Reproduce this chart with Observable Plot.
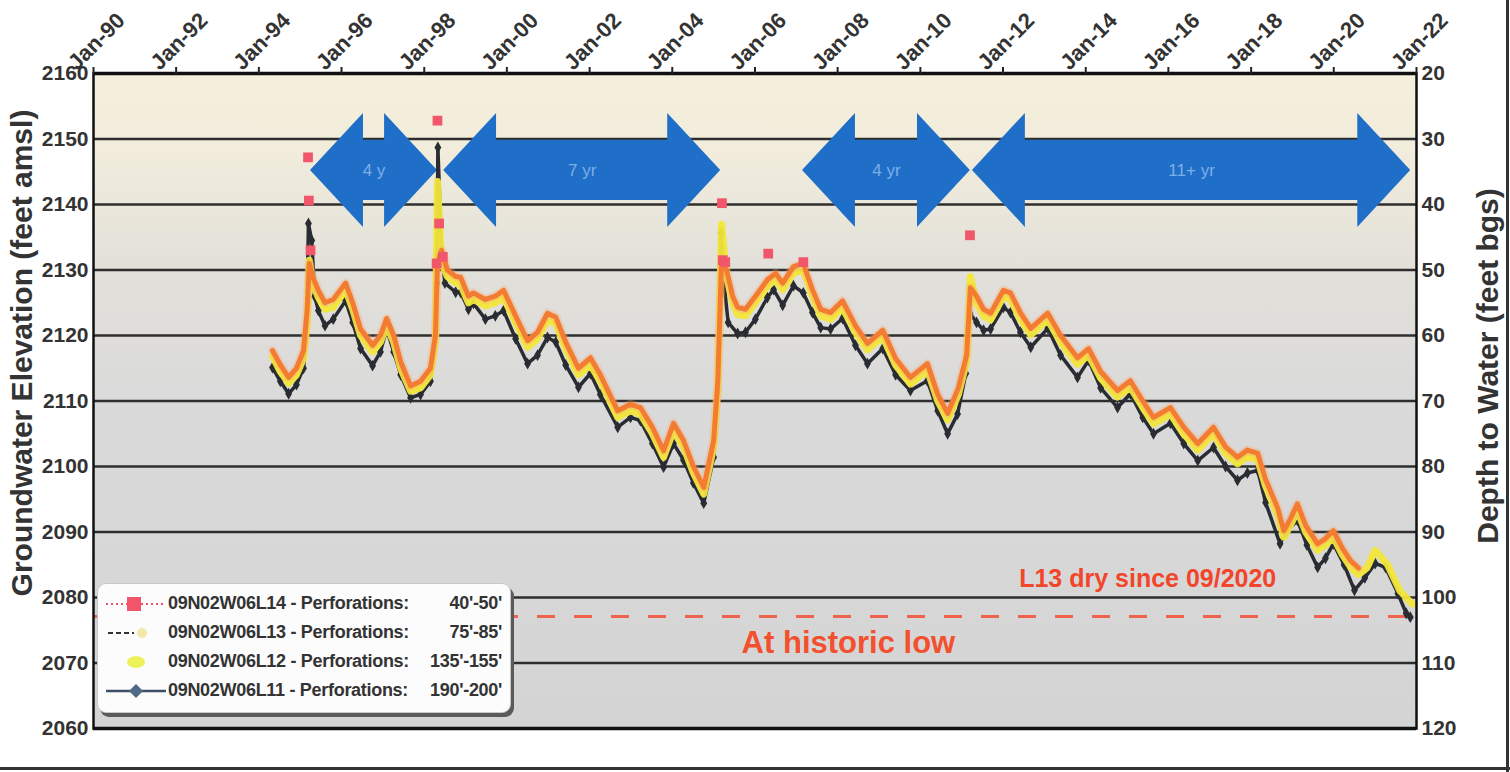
<!DOCTYPE html>
<html>
<head>
<meta charset="utf-8">
<script src="https://cdn.jsdelivr.net/npm/d3@7"></script>
<script src="https://cdn.jsdelivr.net/npm/@observablehq/plot@0.6"></script>
<style>
html,body{margin:0;padding:0;background:#fff;}
#wrap{position:relative;width:1510px;height:772px;overflow:hidden;font-family:"Liberation Sans",Arial,sans-serif;}
#chart{position:absolute;left:0;top:0;}
#legend{position:absolute;left:97px;top:583px;width:414px;height:130px;background:#fcfcfc;border:1px solid #c8c8c8;border-radius:9px;box-shadow:3px 4px 0 #5a5a5a;padding-top:5px;box-sizing:border-box;}
.row{display:flex;align-items:center;height:29px;}
.sym{width:62px;height:20px;margin-left:6px;flex:none;}
.lab{display:flex;justify-content:space-between;width:334px;margin-left:2px;font-weight:bold;font-size:18px;letter-spacing:-0.3px;color:#333;white-space:nowrap;}
.edge{position:absolute;background:#333;}
</style>
</head>
<body>
<div id="wrap">
  <div id="chart"></div>
  <div id="legend"></div>
  <div class="edge" style="left:1506px;top:0;width:3px;height:772px"></div>
  <div class="edge" style="left:0;top:767px;width:1510px;height:3px"></div>
</div>
<script>
// ---------------- data (decimal years, elevation in feet amsl) ----------------
const years13 = [1994.33,1994.52,1994.72,1994.91,1995.08,1995.17,1995.22,1995.3,1995.44,1995.6,
  1995.8,1996.1,1996.27,1996.46,1996.75,1996.94,1997.09,1997.26,1997.43,1997.67,
  1997.91,1998.15,1998.27,1998.32,1998.42,1998.56,1998.76,1998.88,1999.07,1999.19,
  1999.48,1999.72,1999.92,2000.21,2000.5,2000.74,2000.98,2001.18,2001.42,2001.73,
  2002.02,2002.26,2002.68,2002.99,2003.23,2003.52,2003.79,2004.03,2004.27,2004.51,
  2004.76,2005.0,2005.1,2005.19,2005.31,2005.46,2005.58,2005.77,2006.01,2006.3,
  2006.5,2006.67,2006.93,2007.17,2007.39,2007.59,2007.83,2008.12,2008.43,2008.72,
  2009.09,2009.4,2009.76,2010.17,2010.42,2010.66,2010.92,2011.12,2011.21,2011.36,
  2011.53,2011.7,2012.01,2012.18,2012.42,2012.67,2013.08,2013.39,2013.8,2014.07,
  2014.36,2014.77,2015.08,2015.38,2015.64,2016.05,2016.37,2016.71,2017.09,2017.38,
  2017.67,2017.91,2018.16,2018.35,2018.64,2018.79,2018.95,2019.12,2019.32,2019.61,
  2019.8,2019.99,2020.21,2020.41,2020.6];
const elev13 = [2117.7,2115.5,2113.6,2115,2117.7,2124,2131,2129,2126.9,2125,
  2125.5,2128,2125,2121,2118.5,2120,2122.6,2120,2116,2112.3,
  2113,2115,2120,2131,2133,2130,2129,2128.9,2126,2126.5,
  2125.5,2126,2126.9,2123,2119.2,2120.5,2123.4,2122.8,2119,2115,
  2116.6,2114,2108.5,2109.5,2109,2106,2102.4,2106.6,2104,2100,
  2096.8,2104,2113,2131.5,2130,2126,2124.3,2124,2126,2128.5,
  2129.5,2128,2130.5,2131,2127,2124,2123.5,2125.3,2121.5,2118.8,
  2120.8,2116.5,2113.6,2115.7,2111,2108.1,2112,2117,2127.3,2126,
  2124,2123.4,2126.9,2126.5,2123.5,2121.1,2123.4,2120,2116.6,2118,
  2114.5,2111.6,2113.1,2110,2107.5,2109,2106,2103.5,2106,2103,
  2101.4,2102.5,2102,2098,2093.7,2090.2,2092,2094.3,2091,2088.2,
  2089,2090.2,2087.5,2085.6,2084.5];

const years12 = [...years13, 2020.8,2021.0,2021.3,2021.6,2021.9];
const elev12 = [2116.8,2114.5,2112.7,2114,2116.5,2122,2131.5,2128,2125.8,2124,
  2124.3,2127,2124,2120,2117.5,2119,2121.5,2119,2115,2111.5,
  2112,2114,2119,2143.5,2131,2129,2128,2127.8,2125,2125.5,
  2124.5,2125,2125.8,2122,2118.2,2119.5,2122.3,2121.8,2118,2114,
  2115.5,2113,2107.5,2108.5,2108,2105,2101.4,2105.5,2103,2099,
  2095.8,2103,2112,2137,2129,2125,2123.2,2123,2125,2127.5,
  2128.5,2127,2129.5,2130,2126,2123,2122.5,2124.2,2120.5,2117.8,
  2119.8,2115.5,2112.6,2114.7,2110,2107.1,2111,2116,2129,2125,
  2123,2122.4,2125.9,2125.5,2122.5,2120.1,2122.4,2119,2115.6,2117,
  2113.5,2110.6,2112.1,2109,2106.5,2108,2105,2102.5,2105,2102,
  2100.4,2101.5,2101,2097,2092.7,2089.2,2091,2093.3,2090,2087.2,
  2088,2089.2,2086.5,2084.6,2083.5,2084.5,2087.2,2085,2081,2079];

const years11 = [1994.33,1994.52,1994.72,1994.91,1995.08,1995.15,1995.2,1995.28,1995.35,1995.44,
  1995.6,1995.8,1996.1,1996.27,1996.46,1996.75,1996.94,1997.09,1997.26,1997.43,
  1997.67,1997.91,1998.15,1998.27,1998.3,1998.33,1998.42,1998.5,1998.76,1998.88,
  1999.07,1999.19,1999.48,1999.72,1999.92,2000.21,2000.5,2000.74,2000.98,2001.18,
  2001.42,2001.73,2002.02,2002.26,2002.68,2002.99,2003.23,2003.52,2003.79,2004.03,
  2004.27,2004.51,2004.76,2005.0,2005.1,2005.18,2005.25,2005.35,2005.58,2005.77,
  2006.01,2006.3,2006.45,2006.67,2006.93,2007.17,2007.39,2007.59,2007.83,2008.12,
  2008.43,2008.72,2009.09,2009.4,2009.76,2010.17,2010.42,2010.66,2010.9,2011.1,
  2011.2,2011.36,2011.53,2011.7,2012.01,2012.18,2012.42,2012.67,2013.08,2013.39,
  2013.8,2014.07,2014.36,2014.77,2015.08,2015.38,2015.64,2016.05,2016.37,2016.71,
  2017.09,2017.38,2017.67,2017.91,2018.16,2018.35,2018.7,2018.85,2019.12,2019.35,
  2019.61,2019.8,2019.99,2020.25,2020.5,2020.75,2021.0,2021.25,2021.55,2021.75,
  2021.85];
const elev11 = [2115.1,2113,2111.1,2112.5,2115,2120,2137.1,2134.5,2126,2123.8,
  2121.5,2122.5,2125.3,2122,2118,2115.4,2117.5,2121,2117.5,2114,
  2110.5,2111,2113,2120,2128,2148.7,2132.7,2128,2126.6,2126.6,
  2124,2124.9,2122.5,2123,2123.8,2119.5,2115.7,2117,2119.7,2119,
  2115.5,2112.1,2114.2,2111,2106,2107.5,2107,2103.5,2099.9,2103.5,
  2101,2097.5,2094.4,2101.4,2111.6,2135.7,2128,2122,2120.3,2120.5,
  2122.5,2125.8,2127,2124.6,2127.6,2126.5,2123.5,2121.2,2121,2122.6,
  2118.5,2115.7,2118,2114,2111.6,2113.1,2108.5,2105,2108,2114.2,
  2123.4,2122,2120.8,2121,2124.3,2123.5,2120.5,2118.2,2121.1,2117,
  2113.6,2116.2,2112,2109,2111.1,2107.5,2105,2106.6,2103.5,2100.9,
  2102.9,2100,2097.9,2099,2099.4,2094.5,2088.2,2090,2091.8,2088,
  2084.6,2086,2088.2,2085,2081.1,2083,2085.2,2084.6,2080.6,2077.6,
  2077];

const years14 = [1995.19,1995.21,1995.25,1998.3,1998.32,1998.36,1998.45,2005.2,2005.22,2005.28,2006.32,2007.17,2011.2];
const elev14 = [2147.2,2140.6,2133,2131,2152.8,2137.1,2132,2140.2,2131.5,2131.2,2132.5,2131.2,2135.3];

const tickYears = [1990,1992,1994,1996,1998,2000,2002,2004,2006,2008,2010,2012,2014,2016,2018,2020,2022];
const tickLabels = ["Jan-90","Jan-92","Jan-94","Jan-96","Jan-98","Jan-00","Jan-02","Jan-04","Jan-06","Jan-08","Jan-10","Jan-12","Jan-14","Jan-16","Jan-18","Jan-20","Jan-22"];
const elevTicks = [2060,2070,2080,2090,2100,2110,2120,2130,2140,2150,2160];
const depthTicks = [120,110,100,90,80,70,60,50,40,30,20];

const periodStart = [1995.25,1998.47,2007.15,2011.26];
const periodEnd = [1998.32,2005.17,2011.21,2021.86];
const periodLabels = ["4 y","7 yr","4 yr","11+ yr"];

const historicLow = 2077.1;

const legendNames = ["09N02W06L14 - Perforations:","09N02W06L13 - Perforations:","09N02W06L12 - Perforations:","09N02W06L11 - Perforations:"];
const legendRanges = ["40'-50'","75'-85'","135'-155'","190'-200'"];

// ---------------- helpers ----------------
function toDate(y) {
  const yr = Math.floor(y);
  const a = Date.UTC(yr, 0, 1), b = Date.UTC(yr + 1, 0, 1);
  return new Date(a + (y - yr) * (b - a));
}
const rows = (ys, es) => ys.map((y, i) => ({date: toDate(y), elev: es[i]}));
const L11 = rows(years11, elev11);
const L12 = rows(years12, elev12);
const L13 = rows(years13, elev13);
const L14 = rows(years14, elev14);
const tickDates = tickYears.map(toDate);
const depthOf = new Map(elevTicks.map((e, i) => [e, depthTicks[i]]));

// block double arrows (in data units)
const HEAD = 1.28, HH = 8.7, SH = 4.6, CY = 2145.2;
const arrowPts = [];
periodStart.forEach((s, k) => {
  const e = periodEnd[k];
  arrowPts.push(
    {k, x: s, y1: CY, y2: CY},
    {k, x: s + HEAD, y1: CY - HH, y2: CY + HH},
    {k, x: s + HEAD, y1: CY - SH, y2: CY + SH},
    {k, x: e - HEAD, y1: CY - SH, y2: CY + SH},
    {k, x: e - HEAD, y1: CY - HH, y2: CY + HH},
    {k, x: e, y1: CY, y2: CY}
  );
});
const arrowLabels = periodLabels.map((t, k) => ({t, x: (periodStart[k] + periodEnd[k]) / 2}));

const FONT = "Liberation Sans, Arial, Helvetica, sans-serif";

const plot = Plot.plot({
  width: 1510,
  height: 772,
  marginLeft: 93,
  marginRight: 94,
  marginTop: 73,
  marginBottom: 44,
  style: {fontFamily: FONT, color: "#333", background: "transparent"},
  x: {type: "utc", domain: [toDate(1990), toDate(2022)]},
  y: {domain: [2060, 2160]},
  marks: [
    Plot.frame({fill: "url(#bgGrad)"}),
    Plot.ruleY(elevTicks.slice(1, -1), {stroke: "#2e2e2e", strokeWidth: 2.5}),
    Plot.ruleY([historicLow], {stroke: "#f2553c", strokeWidth: 3, strokeDasharray: "18,19", strokeOpacity: 0.9}),
    Plot.areaY(arrowPts, {x: d => toDate(d.x), y1: "y1", y2: "y2", z: "k", fill: "#1f6fc9", curve: "linear"}),
    Plot.text(arrowLabels, {x: d => toDate(d.x), y: () => CY, text: "t", fill: "#7eaee6", fontSize: 17}),
    // L11
    Plot.line(L11, {x: "date", y: "elev", stroke: "#2a2c33", strokeWidth: 3.5}),
    Plot.dot(L11, {x: "date", y: "elev", symbol: "diamond", r: 3.6, fill: "#2a2c33"}),
    // L12
    Plot.line(L12, {x: "date", y: "elev", stroke: "#f2e63a", strokeWidth: 7, strokeOpacity: 0.95}),
    // L13
    Plot.line(L13, {x: "date", y: "elev", stroke: "#f8a56a", strokeWidth: 9, strokeOpacity: 0.3}),
    Plot.line(L13, {x: "date", y: "elev", stroke: "#f47c32", strokeWidth: 5}),
    // L14
    Plot.dot(L14, {x: "date", y: "elev", symbol: "square", r: 5.5, fill: "#f2566a"}),
    // annotations
    Plot.text(["At historic low"], {x: () => toDate(2008.26), y: () => 2073.1, fill: "#f2502f", fontSize: 31, fontWeight: "bold"}),
    Plot.text(["L13 dry since 09/2020"], {x: () => toDate(2015.5), y: () => 2082.8, fill: "#f2452a", fontSize: 25, fontWeight: "bold"}),
    // frame
    Plot.ruleY([2060, 2160], {stroke: "#111", strokeWidth: 3.5}),
    Plot.frame({stroke: "#111", strokeWidth: 2.5}),
    // axes
    Plot.axisX({anchor: "top", ticks: tickDates, tickSize: 7, tickFormat: () => "", label: null, strokeWidth: 2, stroke: "#222"}),
    Plot.text(tickDates, {x: d => d, text: (d, i) => tickLabels[i], frameAnchor: "top", textAnchor: "middle", rotate: -45, dx: -3, dy: -38, fontSize: 22, fontWeight: "bold", fill: "#333"}),
    Plot.axisY({anchor: "left", ticks: elevTicks, tickFormat: "d", tickSize: 0, tickPadding: 5, fontSize: 21, fontWeight: "bold", label: null}),
    Plot.axisY({anchor: "right", ticks: elevTicks, tickFormat: d => depthOf.get(d), tickSize: 0, tickPadding: 5, fontSize: 21, fontWeight: "bold", label: null}),
    Plot.text(["Groundwater Elevation (feet amsl)"], {frameAnchor: "left", textAnchor: "middle", rotate: -90, dx: -71, dy: -48, fontSize: 30, fontWeight: "bold", fill: "#333"}),
    Plot.text(["Depth to Water (feet bgs)"], {frameAnchor: "right", textAnchor: "middle", rotate: -90, dx: 72, dy: -35, fontSize: 30, fontWeight: "bold", fill: "#333"})
  ]
});

// background gradient for the plot frame
const NS = "http://www.w3.org/2000/svg";
const defs = document.createElementNS(NS, "defs");
const grad = document.createElementNS(NS, "linearGradient");
grad.setAttribute("id", "bgGrad");
grad.setAttribute("x1", "0"); grad.setAttribute("y1", "0");
grad.setAttribute("x2", "0"); grad.setAttribute("y2", "1");
[["0", "#f5f0dd"], ["0.12", "#f1ecdb"], ["0.3", "#e2e0da"], ["0.5", "#dadada"], ["1", "#d4d4d4"]].forEach(([o, c]) => {
  const s = document.createElementNS(NS, "stop");
  s.setAttribute("offset", o); s.setAttribute("stop-color", c);
  grad.appendChild(s);
});
defs.appendChild(grad);
plot.insertBefore(defs, plot.firstChild);
document.getElementById("chart").appendChild(plot);

// legend
const symbols = [
  `<line x1="2" x2="60" y1="10" y2="10" stroke="#f0506a" stroke-width="2" stroke-dasharray="2,3"/><rect x="23" y="3" width="14" height="14" fill="#f2566a"/>`,
  `<line x1="4" x2="30" y1="10" y2="10" stroke="#333" stroke-width="2" stroke-dasharray="5,3"/><circle cx="38" cy="10" r="5" fill="#f3e8a8"/>`,
  `<ellipse cx="32" cy="10" rx="9" ry="6" fill="#eef25a"/>`,
  `<line x1="2" x2="62" y1="10" y2="10" stroke="#3d5068" stroke-width="2.5"/><path d="M32 3 L39 10 L32 17 L25 10Z" fill="#4f6a86"/>`
];
const legend = document.getElementById("legend");
legendNames.forEach((n, i) => {
  const row = document.createElement("div");
  row.className = "row";
  row.innerHTML = `<svg class="sym" viewBox="0 0 62 20">${symbols[i]}</svg><div class="lab"><span>${n}</span><span>${legendRanges[i]}</span></div>`;
  legend.appendChild(row);
});
</script>
</body>
</html>
